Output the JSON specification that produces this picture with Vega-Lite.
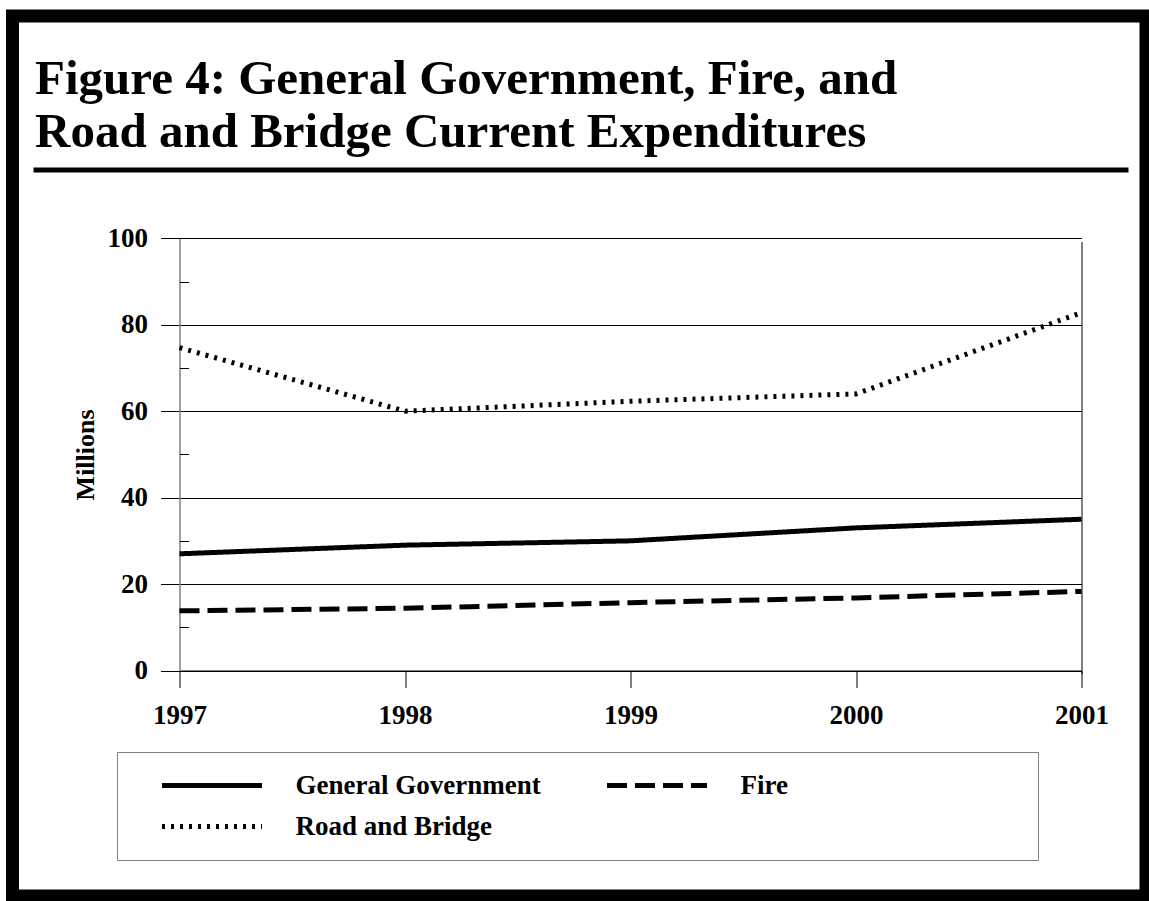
{
  "$schema": "https://vega.github.io/schema/vega-lite/v6.json",
  "width": 1133.5,
  "height": 880,
  "autosize": {"type": "none"},
  "padding": {"left": 12.5, "top": 16, "right": 3, "bottom": 5},
  "background": "white",
  "title": {
    "text": ["Figure 4: General Government, Fire, and", "Road and Bridge Current Expenditures"],
    "anchor": "start",
    "frame": "group",
    "orient": "top",
    "offset": -140.5,
    "dx": 22.5,
    "fontSize": 49,
    "font": "Liberation Serif",
    "fontWeight": "bold",
    "lineHeight": 53,
    "color": "black"
  },
  "layer": [
    {
      "data": {
        "values": [
          {"year": 1997, "series": "General Government", "value": 27},
          {"year": 1998, "series": "General Government", "value": 29},
          {"year": 1999, "series": "General Government", "value": 30},
          {"year": 2000, "series": "General Government", "value": 33},
          {"year": 2001, "series": "General Government", "value": 35},
          {"year": 1997, "series": "Fire", "value": 13.8},
          {"year": 1998, "series": "Fire", "value": 14.4},
          {"year": 1999, "series": "Fire", "value": 15.7},
          {"year": 2000, "series": "Fire", "value": 16.8},
          {"year": 2001, "series": "Fire", "value": 18.3},
          {"year": 1997, "series": "Road and Bridge", "value": 74.7},
          {"year": 1998, "series": "Road and Bridge", "value": 60.0},
          {"year": 1999, "series": "Road and Bridge", "value": 62.3},
          {"year": 2000, "series": "Road and Bridge", "value": 64.0},
          {"year": 2001, "series": "Road and Bridge", "value": 82.8}
        ]
      },
      "mark": {"type": "line", "strokeWidth": 5, "color": "black", "strokeCap": "butt"},
      "encoding": {
        "x": {
          "field": "year",
          "type": "quantitative",
          "scale": {"domain": [1997, 2001], "range": [167, 1069], "nice": false, "zero": false},
          "axis": {
            "values": [1997, 1998, 1999, 2000, 2001],
            "format": "d",
            "orient": "bottom",
            "offset": -225.5,
            "title": null,
            "labelFlush": false,
            "labelOverlap": false,
            "tickSize": 17,
            "tickColor": "black",
            "tickWidth": 1,
            "domainColor": "black",
            "domainWidth": 1,
            "labelPadding": 15,
            "labelFontSize": 27,
            "labelFontWeight": "bold",
            "labelFont": "Liberation Serif",
            "labelColor": "black",
            "grid": true,
            "gridColor": {"condition": {"test": "datum.value === 2001", "value": "black"}, "value": "rgba(0,0,0,0)"},
            "gridWidth": 1
          }
        },
        "y": {
          "field": "value",
          "type": "quantitative",
          "scale": {"domain": [0, 100], "range": [654.5, 222.3], "nice": false, "zero": true},
          "axis": {
            "values": [0, 20, 40, 60, 80, 100],
            "orient": "left",
            "offset": -167,
            "title": "Millions",
            "titleFontSize": 26,
            "titleFontWeight": "bold",
            "titleFont": "Liberation Serif",
            "titleColor": "black",
            "titlePadding": 9,
            "tickSize": 19,
            "tickColor": "black",
            "tickWidth": 1,
            "labelPadding": 13,
            "labelFontSize": 27,
            "labelFontWeight": "bold",
            "labelFont": "Liberation Serif",
            "labelColor": "black",
            "labelFlush": false,
            "labelOverlap": false,
            "domainColor": "#808080",
            "domainWidth": 1.5,
            "grid": true,
            "gridColor": "black",
            "gridWidth": 1
          }
        },
        "strokeDash": {
          "field": "series",
          "type": "nominal",
          "scale": {
            "domain": ["General Government", "Fire", "Road and Bridge"],
            "range": [[1, 0], [20, 8], [3, 6]]
          },
          "legend": {
            "title": null,
            "orient": "none",
            "direction": "horizontal",
            "legendX": 104.5,
            "legendY": 736,
            "columns": 2,
            "gridAlign": "each",
            "columnPadding": 41,
            "rowPadding": 13,
            "padding": 20,
            "clipHeight": 27,
            "symbolType": "stroke",
            "symbolSize": 10000,
            "symbolStrokeWidth": 5,
            "symbolStrokeColor": "black",
            "symbolOffset": 22.5,
            "labelOffset": 31,
            "labelExpr": "datum.label === 'Fire' ? 'Fire\u00a0\u00a0\u00a0\u00a0\u00a0\u00a0\u00a0\u00a0\u00a0\u00a0\u00a0\u00a0\u00a0\u00a0\u00a0\u00a0\u00a0\u00a0\u00a0\u00a0\u00a0\u00a0\u00a0\u00a0\u00a0\u00a0\u00a0\u00a0\u00a0\u00a0\u00a0\u00a0\u00a0\u00a0\u200b' : datum.label",
            "labelFontSize": 27,
            "labelFont": "Liberation Serif",
            "labelFontWeight": "bold",
            "labelColor": "black",
            "labelLimit": 600,
            "strokeColor": "#808080",
            "fillColor": "white"
          }
        }
      }
    },
    {
      "data": {"values": []},
      "mark": "rule",
      "encoding": {
        "y": {
          "field": "value",
          "type": "quantitative",
          "axis": {
            "values": [10, 30, 50, 70, 90],
            "orient": "left",
            "offset": -167,
            "tickSize": -9,
            "tickColor": "black",
            "tickWidth": 1,
            "labels": false,
            "domain": false,
            "grid": false,
            "title": null
          }
        }
      }
    },
    {
      "data": {"values": []},
      "mark": "rule",
      "encoding": {
        "x": {
          "field": "t",
          "type": "quantitative",
          "scale": {"domain": [0, 1], "range": [20.5, 1115.5], "nice": false, "zero": false},
          "axis": {
            "orient": "top",
            "offset": -153.5,
            "domain": true,
            "domainColor": "black",
            "domainWidth": 5,
            "ticks": false,
            "labels": false,
            "grid": false,
            "title": null
          }
        }
      }
    }
  ],
  "resolve": {
    "scale": {"x": "independent"},
    "axis": {"x": "independent", "y": "independent"}
  },
  "config": {
    "font": "Liberation Serif",
    "view": {"stroke": "black", "strokeWidth": 13, "fill": "white"}
  }
}
